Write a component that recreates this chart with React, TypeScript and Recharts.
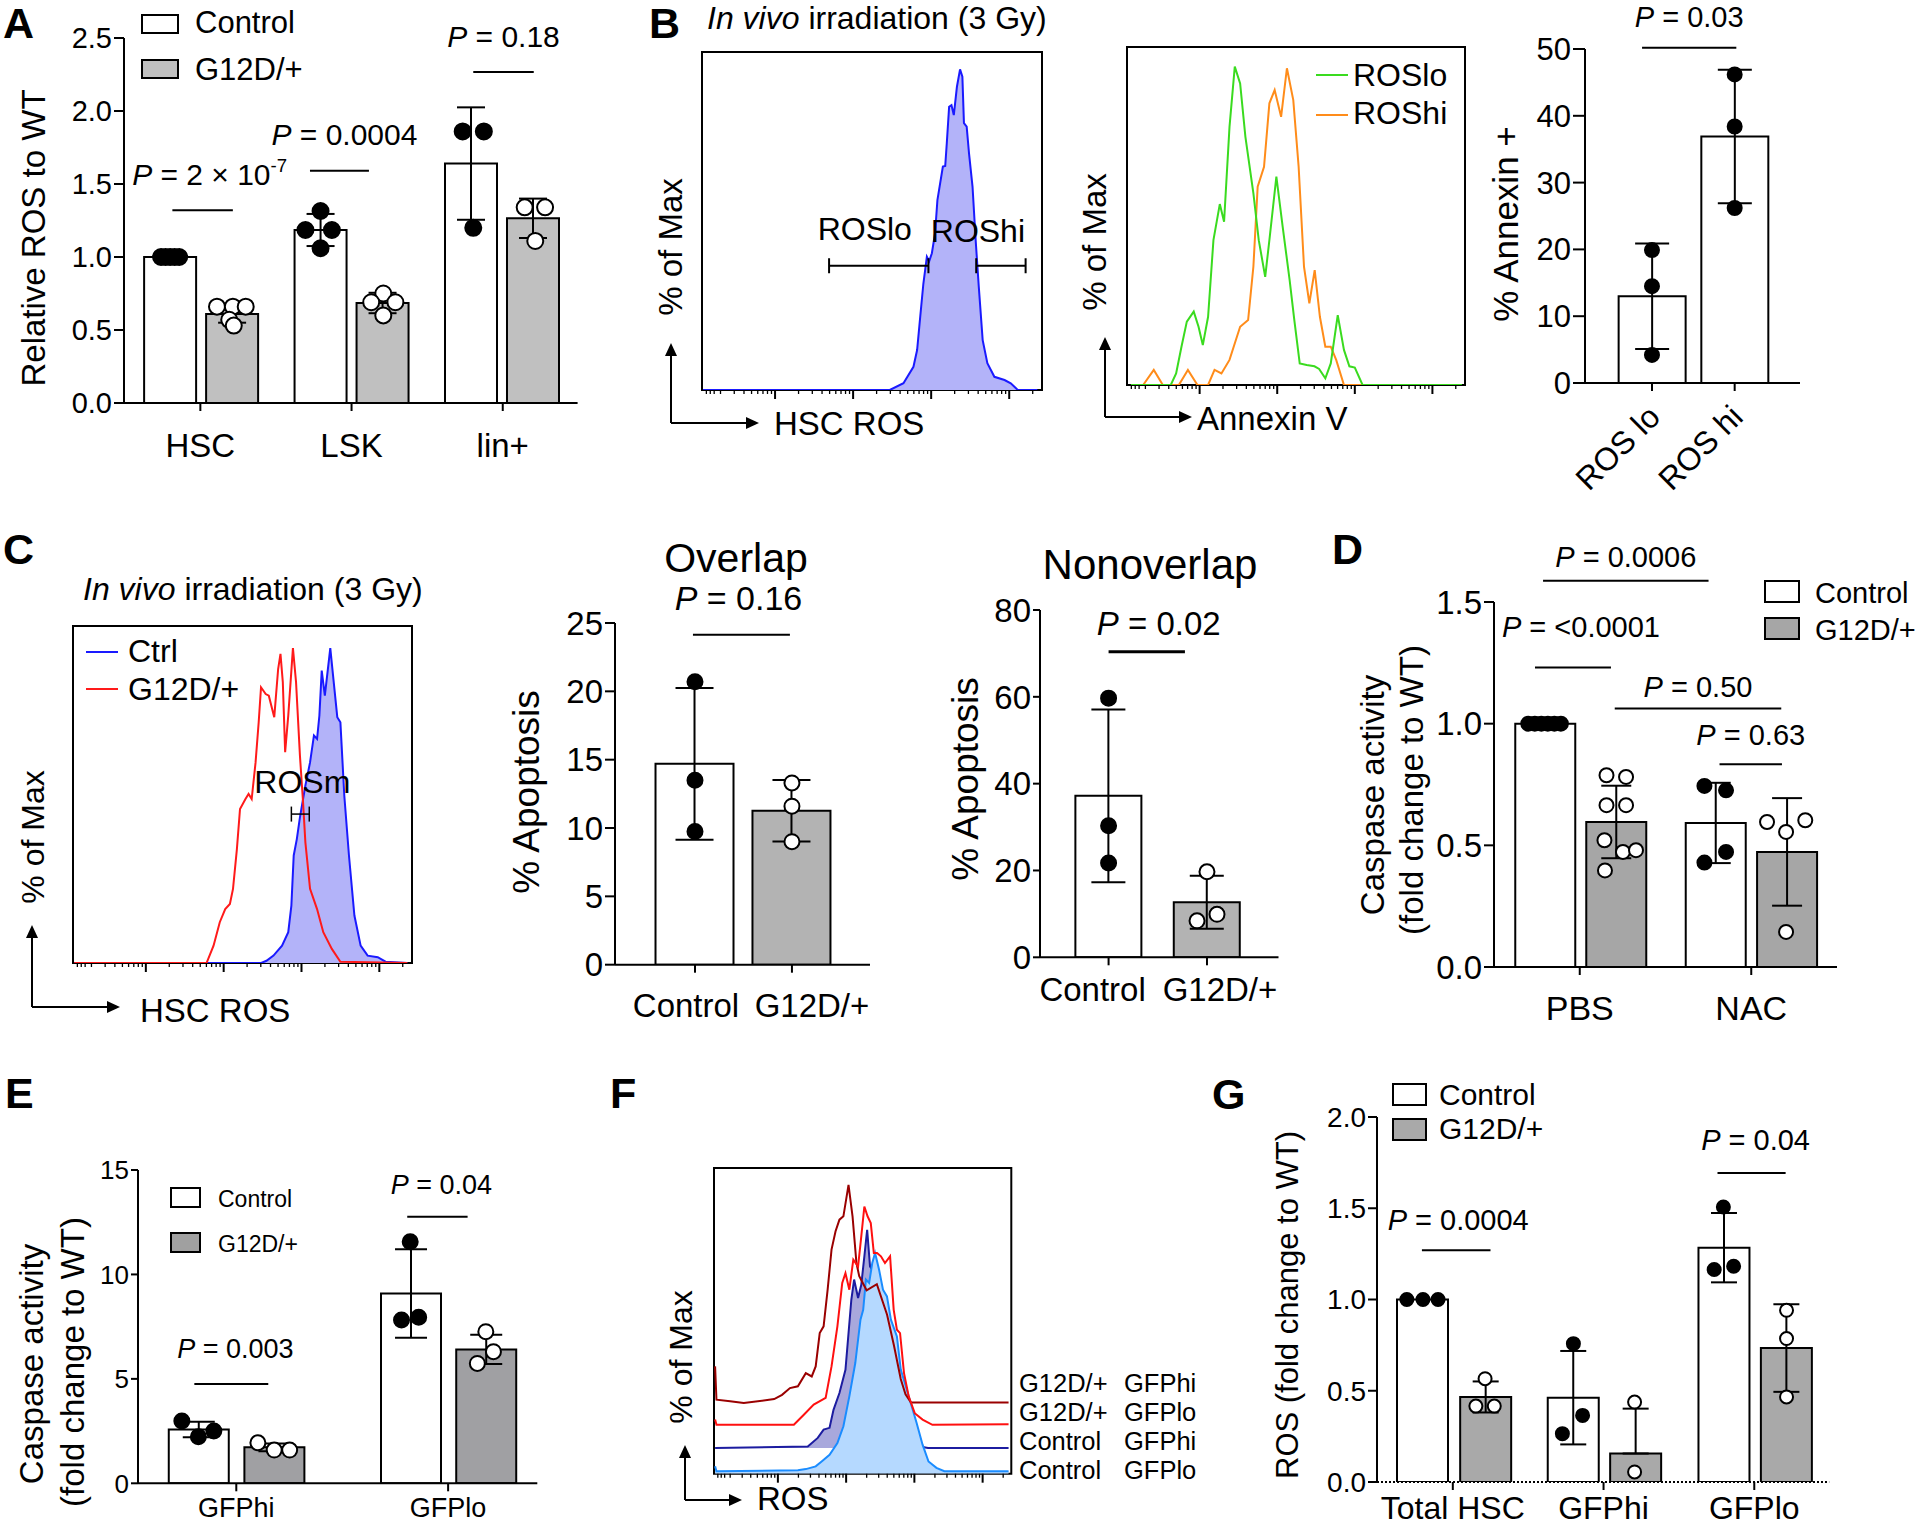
import React from "react";
import {
  ComposedChart,
  Bar,
  Cell,
  ErrorBar,
  Scatter,
  XAxis,
  YAxis,
  ReferenceLine,
  ReferenceArea,
  Area,
  Line,
} from "recharts";

const FONT = "'Liberation Sans', Arial, Helvetica, sans-serif";
const axisStyle = { stroke: "#000", strokeWidth: 2 };

type Pt = [number, number];

// ---------- A: relative ROS ----------
const aGroups = ["HSC", "LSK", "lin+"];
const aCtrl = [1.0, 1.185, 1.64];
const aCtrlSd = [0, 0.11, 0.385];
const aMut = [0.61, 0.685, 1.265];
const aMutSd = [0.06, 0.07, 0.135];
const aCtrlDots: Pt[] = [
  [0.245, 1], [0.275, 1], [0.305, 1], [0.335, 1], [0.365, 1],
  [1.3, 1.315], [1.2, 1.185], [1.375, 1.185], [1.3, 1.06],
  [2.24, 1.86], [2.38, 1.86], [2.31, 1.2],
];
const aMutDots: Pt[] = [
  [0.615, 0.66], [0.72, 0.66], [0.805, 0.66], [0.696, 0.57], [0.726, 0.53],
  [1.715, 0.75], [1.635, 0.69], [1.795, 0.69], [1.715, 0.6],
  [2.65, 1.34], [2.785, 1.34], [2.72, 1.11],
];
const aPvals = ["2 × 10", "0.0004", "0.18"];

// ---------- B: annexin by ROS gate ----------
const bGroups = ["ROS lo", "ROS hi"];
const bAnnexin = [13.0, 36.9];
const bAnnexinSd = [7.9, 10.0];
const bDots: Pt[] = [
  [0.81, 19.9], [0.81, 14.5], [0.81, 4.2],
  [1.81, 46.2], [1.81, 38.4], [1.81, 26.2],
];
const bPvals = ["0.03"];

// flow histograms: [position on log axis (decades), % of max]
const b1Hsc: Pt[] = [
  [0.077, 0], [2.47, 0], [2.645, 2.1], [2.773, 7.2], [2.82, 12.4], [2.86, 22.8], [2.9, 33],
  [2.945, 41.4], [2.975, 40], [3.009, 42.5], [3.05, 48.7], [3.08, 59], [3.15, 69.4], [3.18, 69.6],
  [3.2, 76.6], [3.23, 88], [3.26, 88.5], [3.29, 85.4], [3.33, 94.2], [3.37, 99.6], [3.4, 97.3],
  [3.42, 82.9], [3.455, 81.8], [3.485, 73.5], [3.53, 63.2], [3.57, 46.6], [3.61, 32.1],
  [3.66, 15.5], [3.72, 8.3], [3.81, 4.1], [3.94, 3.1], [4.02, 2.1], [4.11, 0], [4.36, 0],
];
const b2Lo: Pt[] = [
  [0.114, 0], [0.628, 0], [0.697, 3.6], [0.766, 11.9], [0.835, 19.7], [0.924, 22.8], [0.986, 18.1],
  [1.041, 12.4], [1.109, 21.2], [1.178, 45], [1.26, 56.2], [1.315, 50.7], [1.385, 80.2],
  [1.453, 98.9], [1.522, 93.7], [1.59, 77.1], [1.693, 59.5], [1.762, 45], [1.845, 33.6],
  [1.899, 45], [1.989, 64.7], [2.07, 49.2], [2.16, 32.6], [2.22, 20.2], [2.29, 6.7], [2.38, 6.2],
  [2.48, 5.8], [2.54, 5], [2.62, 2.1], [2.69, 6.7], [2.78, 21.7], [2.86, 10.9], [2.93, 5.8],
  [3.0, 5.4], [3.1, 0], [4.38, 0],
];
const b2Hi: Pt[] = [
  [0.272, 0], [0.409, 4.7], [0.526, 0], [0.732, 0], [0.849, 4.7], [0.972, 0], [1.109, 0],
  [1.192, 4.7], [1.281, 3.6], [1.385, 7.8], [1.522, 18.1], [1.625, 20.2], [1.693, 36.8],
  [1.748, 61.6], [1.83, 67.8], [1.899, 87.5], [1.967, 91.6], [2.05, 83.3], [2.125, 98.4],
  [2.207, 88.5], [2.276, 67.8], [2.345, 36.8], [2.414, 25.4], [2.483, 35.7], [2.55, 21.2],
  [2.62, 11.9], [2.69, 11.9], [2.76, 7.8], [2.86, 0], [3.1, 0],
];

// ---------- C ----------
const cCtrl: Pt[] = [
  [0.08, 0], [2.483, 0], [2.55, 0.7], [2.64, 2.3], [2.75, 5.4], [2.83, 9.6], [2.87, 17.9],
  [2.9, 33.5], [2.94, 38.6], [2.98, 45.4], [3.05, 55.3], [3.11, 62.5], [3.16, 70.9], [3.2, 69.8],
  [3.23, 77.1], [3.26, 91.1], [3.3, 83.3], [3.37, 98.1], [3.41, 88.5], [3.46, 76.6], [3.5, 75],
  [3.55, 52.2], [3.61, 33.5], [3.68, 14.8], [3.76, 5.4], [3.85, 2.3], [3.98, 1.8], [4.08, 0.4],
  [4.36, 0],
];
const cMut: Pt[] = [
  [0.08, 0], [1.78, 0], [1.87, 5.4], [1.95, 12.7], [2.02, 16.8], [2.08, 18.4], [2.12, 23.1],
  [2.17, 35.5], [2.21, 48], [2.28, 51.1], [2.32, 52.7], [2.36, 51.1], [2.41, 62.5], [2.45, 75],
  [2.48, 85.9], [2.54, 83.8], [2.58, 83.3], [2.65, 76.6], [2.7, 91.6], [2.73, 96.3], [2.76, 87.5],
  [2.79, 65.7], [2.83, 77.1], [2.89, 98.1], [2.93, 87.5], [2.98, 64.6], [3.02, 50.1],
  [3.05, 37.6], [3.11, 23.1], [3.2, 16.8], [3.28, 9.6], [3.39, 4.4], [3.5, 0.4], [4.36, 0],
];
const cGroups = ["Control", "G12D/+"];
const cOverlap = [14.7, 11.27];
const cOverlapSd = [5.55, 2.25];
const cOverlapCtrlDots: Pt[] = [[0.825, 20.7], [0.825, 13.5], [0.825, 9.75]];
const cOverlapMutDots: Pt[] = [[1.825, 13.3], [1.825, 11.6], [1.825, 9.0]];
const cNon = [37.2, 12.7];
const cNonSd = [19.9, 6.1];
const cNonCtrlDots: Pt[] = [[0.697, 59.7], [0.697, 30.3], [0.697, 21.7]];
const cNonMutDots: Pt[] = [[1.697, 19.7], [1.799, 9.9], [1.596, 8.4]];

// ---------- D ----------
const dGroups = ["PBS", "NAC"];
const dCtrl = [1.0, 0.592];
const dCtrlSd = [0, 0.165];
const dMut = [0.596, 0.473];
const dMutSd = [0.149, 0.221];
const dCtrlDots: Pt[] = [
  [0.2, 1], [0.238, 1], [0.276, 1], [0.314, 1], [0.352, 1], [0.39, 1],
  [1.227, 0.744], [1.353, 0.726], [1.227, 0.429], [1.353, 0.473],
];
const dMutDots: Pt[] = [
  [0.656, 0.788], [0.77, 0.781], [0.656, 0.665], [0.77, 0.665], [0.644, 0.521],
  [0.752, 0.473], [0.828, 0.48], [0.647, 0.397],
  [1.592, 0.596], [1.703, 0.555], [1.815, 0.603], [1.703, 0.144],
];
const dPvals = ["0.0006", "<0.0001", "0.50", "0.63"];

// ---------- E ----------
const eGroups = ["GFPhi", "GFPlo"];
const eCtrl = [2.58, 9.09];
const eCtrlSd = [0.37, 2.12];
const eMut = [1.72, 6.41];
const eMutSd = [0.18, 0.7];
const eCtrlDots: Pt[] = [[0.207, 2.98], [0.285, 2.23], [0.358, 2.5], [1.285, 11.57], [1.244, 7.82], [1.325, 7.95]];
const eMutDots: Pt[] = [[0.566, 1.94], [0.643, 1.59], [0.716, 1.59], [1.642, 7.26], [1.678, 6.3], [1.602, 5.74]];
const ePvals = ["0.003", "0.04"];

// ---------- F ----------
const fMutHi: Pt[] = [
  [0.08, 35.1], [0.1, 24.2], [0.3, 23.7], [0.5, 23.1], [0.946, 24.4], [1.061, 25.8], [1.177, 28],
  [1.293, 28.6], [1.409, 32.9], [1.496, 31.8], [1.554, 35.1], [1.613, 46], [1.67, 48.2],
  [1.729, 60.2], [1.786, 73.3], [1.845, 79.3], [1.902, 83.1], [1.96, 84.2], [2.035, 94.5],
  [2.094, 84.2], [2.151, 68.9], [2.192, 64.6], [2.3, 60], [2.45, 62], [2.6, 52], [2.7, 42],
  [2.8, 31], [2.87, 26], [2.95, 23.3], [4.38, 23.3],
];
const fMutLo: Pt[] = [
  [0.08, 17.7], [0.1, 16], [1.234, 16], [1.38, 19.3], [1.525, 22.6], [1.7, 24.8], [1.786, 35.1],
  [1.872, 48.2], [1.943, 62.4], [1.99, 65.6], [2.047, 60.2], [2.105, 70], [2.175, 67.8],
  [2.222, 77.6], [2.267, 87.4], [2.314, 84.2], [2.361, 82], [2.406, 72.2], [2.453, 72.2],
  [2.51, 71.1], [2.569, 68.9], [2.644, 71.1], [2.697, 53.6], [2.744, 47.1], [2.79, 46],
  [2.848, 32.9], [2.917, 25.3], [3.005, 19.8], [3.12, 17.7], [3.264, 16], [4.38, 16.2],
];
const fCtrlHi: Pt[] = [
  [0.08, 8.4], [1.438, 8.9], [1.584, 11.7], [1.67, 14.4], [1.757, 15], [1.815, 20.9],
  [1.902, 26.4], [1.99, 34], [2.076, 56.9], [2.117, 63.5], [2.175, 57.5], [2.222, 61.8],
  [2.267, 71.1], [2.308, 79.8], [2.35, 67.8], [2.47, 63.5], [2.58, 55.8], [2.69, 42.7],
  [2.8, 29.7], [2.917, 18.8], [3.033, 11.1], [3.12, 8.7], [3.2, 8.4], [4.38, 8.4],
];
const fCtrlLo: Pt[] = [
  [0.08, 2.4], [0.1, 0.8], [1.293, 1.1], [1.409, 1.5], [1.554, 2.4], [1.641, 4.0], [1.757, 6.2],
  [1.872, 10.0], [1.96, 15.5], [2.047, 25.3], [2.134, 36.2], [2.21, 50.4], [2.25, 53.6],
  [2.29, 63.5], [2.337, 62.4], [2.383, 68.9], [2.424, 72.2], [2.483, 66.7], [2.54, 60.2],
  [2.598, 58], [2.656, 50.4], [2.744, 44.9], [2.801, 34], [2.86, 29.7], [2.917, 25.3],
  [2.976, 20.9], [3.033, 16.6], [3.12, 9.5], [3.207, 4.0], [3.323, 1.9], [3.439, 0.8], [4.38, 0.8],
];
const fLabels = [["G12D/+", "GFPhi"], ["G12D/+", "GFPlo"], ["Control", "GFPhi"], ["Control", "GFPlo"]];

// ---------- G ----------
const gGroups = ["Total HSC", "GFPhi", "GFPlo"];
const gCtrl = [1.0, 0.462, 1.284];
const gCtrlSd = [0, 0.256, 0.19];
const gMut = [0.466, 0.156, 0.734];
const gMutSd: (number | Pt)[] = [0.085, [0, 0.246], 0.24];
const gCtrlDots: Pt[] = [
  [0.198, 1], [0.305, 1], [0.405, 1],
  [1.303, 0.758], [1.364, 0.365], [1.23, 0.265],
  [2.298, 1.507], [2.237, 1.164], [2.366, 1.182],
];
const gMutDots: Pt[] = [
  [0.717, 0.566], [0.656, 0.416], [0.778, 0.416],
  [1.709, 0.438], [1.709, 0.055],
  [2.717, 0.941], [2.717, 0.786], [2.717, 0.466],
];
const gPvals = ["0.0004", "0.04"];

// ---------- layout (axis units) ----------
const A_SLOTS = [0.305, 0.715, 1.3, 1.71, 2.295, 2.705];
const D_SLOTS = [0.296, 0.71, 1.29, 1.706];
const E_SLOTS = [0.285, 0.642, 1.287, 1.642];
const G_SLOTS = [0.3, 0.719, 1.3, 1.714, 2.3, 2.714];

const A_BRACKETS = [
  { x1: 0.32, x2: 0.72, y: 1.32, dy: 25, dx: 7, sup: "-7" },
  { x1: 1.23, x2: 1.62, y: 1.59, dy: 26, dx: 5 },
  { x1: 2.31, x2: 2.71, y: 2.267, dy: 25 },
];
const B_BRACKETS = [{ x1: 0.69, x2: 1.83, y: 50.2, dy: 21 }];
const COV_BRACKETS = [{ x1: 0.804, x2: 1.804, y: 24.14, dy: 25, dx: -3 }];
const CNON_BRACKETS = [{ x1: 0.697, x2: 1.473, y: 70.4, dy: 17, dx: 12, sw: 3 }];
const D_BRACKETS = [
  { x1: 0.286, x2: 1.251, y: 1.587, dy: 14 },
  { x1: 0.239, x2: 0.682, y: 1.231, dy: 30, dx: 8 },
  { x1: 0.704, x2: 1.675, y: 1.062, dy: 12 },
  { x1: 1.315, x2: 1.679, y: 0.833, dy: 19 },
];
const E_BRACKETS = [
  { x1: 0.266, x2: 0.615, y: 4.75, dy: 26, dx: 4 },
  { x1: 1.271, x2: 1.556, y: 12.76, dy: 23, dx: 4 },
];
const G_BRACKETS = [
  { x1: 0.298, x2: 0.753, y: 1.27, dy: 20, dx: 2 },
  { x1: 2.259, x2: 2.711, y: 1.693, dy: 23, dx: 4 },
];

function pairRows(slots: number[], ctrl: number[], ctrlSd: any[], mut: number[], mutSd: any[], mutFill: string) {
  const rows: any[] = [];
  ctrl.forEach((v, i) => {
    rows.push({ x: slots[2 * i], y: v, err: ctrlSd[i], fill: "#fff" });
    rows.push({ x: slots[2 * i + 1], y: mut[i], err: mutSd[i], fill: mutFill });
  });
  return rows;
}

function mergeCurves(curves: Record<string, Pt[]>) {
  const map = new Map<number, any>();
  Object.entries(curves).forEach(([key, pts]) => {
    pts.forEach(([x, y]) => {
      const row = map.get(x) ?? { x };
      row[key] = y;
      map.set(x, row);
    });
  });
  return [...map.values()].sort((a, b) => a.x - b.x);
}

const FLOW_DOMAIN: [number, number] = [0.064, 4.42];
const FLOW_TICKS = (() => {
  const t = [0.12, 0.17, 0.22];
  for (let d = 0; d <= 4; d++) {
    if (d > 0) t.push(d);
    for (let k = 2; k <= 9; k++) {
      const v = d + Math.log10(k);
      if (v < FLOW_DOMAIN[1]) t.push(v);
    }
  }
  return t.sort((a, b) => a - b);
})();

const dotShape = (r: number, fill: string) => (props: any) => {
  if (props.cx == null || props.cy == null) return <g />;
  return <circle cx={props.cx} cy={props.cy} r={r} fill={fill} stroke="#000" strokeWidth={2} />;
};

const pLabel = (l: any, fs: number) => (props: any) => {
  const vb = props.viewBox ?? {};
  const cx = (vb.x ?? 0) + (vb.width ?? 0) / 2 + (l.dx ?? 0);
  const y = (vb.y ?? 0) - l.dy;
  return (
    <text x={cx} y={y} textAnchor="middle" fontSize={fs} fontFamily={FONT} fill="#000">
      <tspan fontStyle="italic">P</tspan>
      <tspan>{" = " + l.txt}</tspan>
      {l.sup ? (
        <tspan dy={-fs * 0.45} fontSize={fs * 0.62}>
          {l.sup}
        </tspan>
      ) : null}
    </text>
  );
};

const gateLabel = (g: any, fs: number) => (props: any) => {
  const vb = props.viewBox ?? {};
  const cx = (vb.x ?? 0) + (vb.width ?? 0) / 2 + (g.dx ?? 0);
  return (
    <text x={cx} y={(vb.y ?? 0) - g.dy} textAnchor="middle" fontSize={fs} fontFamily={FONT} fill="#000">
      {g.label}
    </text>
  );
};

const groupTick = (p: any) => (t: any) => {
  const i = t.index;
  const label = p.groups[i];
  const axisY = t.y - 8;
  if (p.rotate) {
    return (
      <text
        transform={`translate(${t.x + 10},${axisY + 36}) rotate(-45)`}
        textAnchor="end"
        fontSize={p.xFont}
        fontFamily={FONT}
        fill="#000"
      >
        {label}
      </text>
    );
  }
  return (
    <text x={t.x + (p.labelDx?.[i] ?? 0)} y={axisY + p.labelBase} textAnchor="middle" fontSize={p.xFont} fontFamily={FONT} fill="#000">
      {label}
    </text>
  );
};

const flowTick = (t: any) => {
  const v = t.payload?.value ?? 0;
  const major = Math.abs(v - Math.round(v)) < 1e-6;
  return <line x1={t.x} x2={t.x} y1={t.y} y2={t.y + (major ? 9 : 4)} stroke="#000" strokeWidth={major ? 2 : 1.3} />;
};

function BarPanel(p: any) {
  const [px, py, pw, ph] = p.plot;
  const padL = 110;
  const padT = 80;
  const padR = 30;
  const padB = p.rotate ? 150 : 80;
  const W = pw + padL + padR;
  const H = ph + padT + padB;
  const lines = p.brackets.map((b: any, i: number) => ({ ...b, txt: p.pvals[i] }));
  return (
    <div style={{ position: "absolute", left: px - padL, top: py - padT, width: W, height: H }}>
      <ComposedChart width={W} height={H} data={p.rows} margin={{ top: padT, right: padR, left: 0, bottom: 0 }}>
        <YAxis
          type="number"
          dataKey="y"
          width={padL}
          domain={p.yDomain}
          allowDataOverflow
          ticks={p.yTicks}
          interval={0}
          tickFormatter={p.yFmt}
          axisLine={axisStyle}
          tickLine={axisStyle}
          tickSize={p.tickSize ?? 9}
          tickMargin={2}
          tick={{ fill: "#000", fontSize: p.yFont, fontFamily: FONT }}
        />
        <XAxis
          xAxisId="b"
          type="number"
          dataKey="x"
          domain={p.xDomain}
          allowDataOverflow
          ticks={p.groupTicks}
          interval={0}
          height={padB}
          tickSize={8}
          tickMargin={0}
          tickLine={axisStyle}
          axisLine={p.dotted ? { ...axisStyle, strokeDasharray: "2 2" } : axisStyle}
          tick={groupTick(p)}
        />
        <XAxis xAxisId="s" type="number" dataKey="x" domain={p.xDomain} allowDataOverflow hide />
        <Bar xAxisId="b" dataKey="y" barSize={p.barSize} stroke="#000" strokeWidth={2} isAnimationActive={false}>
          {p.rows.map((r: any, i: number) => (
            <Cell key={i} fill={r.fill} />
          ))}
          <ErrorBar dataKey="err" width={p.cap} stroke="#000" strokeWidth={2} direction="y" />
        </Bar>
        {lines.map((l: any, i: number) => (
          <ReferenceLine
            key={"p" + i}
            xAxisId="s"
            ifOverflow="visible"
            segment={[{ x: l.x1, y: l.y }, { x: l.x2, y: l.y }]}
            stroke="#000"
            strokeWidth={l.sw ?? 2}
            label={pLabel(l, p.pFont)}
          />
        ))}
        {p.filled.length > 0 && (
          <Scatter
            xAxisId="s"
            data={p.filled.map(([x, y]: Pt) => ({ x, y }))}
            shape={dotShape(p.r, "#000")}
            isAnimationActive={false}
          />
        )}
        {p.open.length > 0 && (
          <Scatter
            xAxisId="s"
            data={p.open.map(([x, y]: Pt) => ({ x, y }))}
            shape={dotShape(p.r, "#fff")}
            isAnimationActive={false}
          />
        )}
      </ComposedChart>
    </div>
  );
}

function gateLines(gates: any[], capH: number, fs: number, sw: number) {
  const out: any[] = [];
  gates.forEach((g, i) => {
    out.push(
      <ReferenceLine
        key={"g" + i}
        ifOverflow="visible"
        segment={[{ x: g.x1, y: g.y }, { x: g.x2, y: g.y }]}
        stroke="#000"
        strokeWidth={sw}
        label={gateLabel(g, fs)}
      />
    );
    [g.x1, g.x2].forEach((x, j) =>
      out.push(
        <ReferenceLine
          key={"c" + i + "-" + j}
          ifOverflow="visible"
          segment={[{ x, y: g.y - capH }, { x, y: g.y + capH }]}
          stroke="#000"
          strokeWidth={sw}
        />
      )
    );
  });
  return out;
}

function FlowPanel(p: any) {
  const [px, py, pw, ph] = p.plot;
  const pad = 12;
  const padB = 24;
  const W = pw + pad * 2;
  const H = ph + pad + padB;
  return (
    <div style={{ position: "absolute", left: px - pad, top: py - pad, width: W, height: H }}>
      <ComposedChart width={W} height={H} data={p.data} margin={{ top: pad, right: pad, left: pad, bottom: 0 }}>
        <XAxis
          type="number"
          dataKey="x"
          domain={FLOW_DOMAIN}
          allowDataOverflow
          ticks={FLOW_TICKS}
          interval={0}
          height={padB}
          tickSize={0}
          tickMargin={0}
          tickLine={false}
          axisLine={false}
          tick={flowTick}
        />
        <YAxis type="number" hide domain={[0, p.yMax]} allowDataOverflow />
        <ReferenceArea
          x1={FLOW_DOMAIN[0]}
          x2={FLOW_DOMAIN[1]}
          y1={0}
          y2={p.yMax}
          fill="none"
          stroke="#000"
          strokeWidth={2}
          ifOverflow="visible"
        />
        {p.children}
      </ComposedChart>
    </div>
  );
}

const b1Data = mergeCurves({ hsc: b1Hsc });
const b2Data = mergeCurves({ lo: b2Lo, hi: b2Hi });
const cData = mergeCurves({ ctrl: cCtrl, mut: cMut });
const fData = mergeCurves({ mutHi: fMutHi, mutLo: fMutLo, ctrlHi: fCtrlHi, ctrlLo: fCtrlLo });

const B1_GATES = [
  { x1: 1.692, x2: 2.965, y: 38.6, label: "ROSlo", dx: -14, dy: 26 },
  { x1: 3.577, x2: 4.21, y: 38.6, label: "ROShi", dx: -23, dy: 24 },
];
const C_GATES = [{ x1: 2.87, x2: 3.1, y: 46.4, label: "ROSm", dx: 2, dy: 21 }];

function T(p: any) {
  if (p.rot) {
    return (
      <text
        transform={`translate(${p.x},${p.y}) rotate(-90)`}
        textAnchor="middle"
        dominantBaseline="central"
        fontSize={p.fs}
        fontFamily={FONT}
        fill="#000"
      >
        {p.children}
      </text>
    );
  }
  return (
    <text x={p.x} y={p.y} textAnchor={p.anchor ?? "start"} fontSize={p.fs} fontFamily={FONT} fontWeight={p.bold ? "bold" : undefined} fill="#000">
      {p.children}
    </text>
  );
}

function Arrows({ x, y, up, right }: any) {
  return (
    <g>
      <line x1={x} y1={y} x2={x} y2={up + 10} stroke="#000" strokeWidth={2} />
      <line x1={x} y1={y} x2={right - 10} y2={y} stroke="#000" strokeWidth={2} />
      <polygon points={`${x - 6},${up + 13} ${x + 6},${up + 13} ${x},${up}`} fill="#000" />
      <polygon points={`${right - 13},${y - 6} ${right - 13},${y + 6} ${right},${y}`} fill="#000" />
    </g>
  );
}

function BoxLegend({ x, y1, y2, w, h, fill, fs, tx, b1, b2 }: any) {
  return (
    <g>
      <rect x={x} y={y1} width={w} height={h} fill="#fff" stroke="#000" strokeWidth={2} />
      <rect x={x} y={y2} width={w} height={h} fill={fill} stroke="#000" strokeWidth={2} />
      <T x={tx} y={b1} fs={fs}>Control</T>
      <T x={tx} y={b2} fs={fs}>G12D/+</T>
    </g>
  );
}

function Overlay() {
  const fBase = [1392, 1421, 1450, 1479];
  return (
    <svg width={1920} height={1527} style={{ position: "absolute", left: 0, top: 0, pointerEvents: "none" }}>
      {/* panel letters */}
      <T x={3} y={38} fs={43} bold>A</T>
      <T x={649} y={38} fs={43} bold>B</T>
      <T x={3} y={564} fs={43} bold>C</T>
      <T x={1332} y={564} fs={43} bold>D</T>
      <T x={5} y={1108} fs={43} bold>E</T>
      <T x={610} y={1108} fs={43} bold>F</T>
      <T x={1212} y={1109} fs={43} bold>G</T>

      {/* A */}
      <BoxLegend x={142} y1={15} y2={60} w={36} h={18} fill="#c0c0c0" fs={31} tx={195} b1={33} b2={80} />
      <T x={33} y={238} fs={33} rot>Relative ROS to WT</T>

      {/* B */}
      <text x={707} y={29} fontSize={32} fontFamily={FONT} fill="#000">
        <tspan fontStyle="italic">In vivo</tspan>
        <tspan> irradiation (3 Gy)</tspan>
      </text>
      <T x={670} y={247} fs={33} rot>% of Max</T>
      <Arrows x={671} y={423} up={343} right={759} />
      <T x={774} y={435} fs={33}>HSC ROS</T>
      <T x={1094} y={242} fs={33} rot>% of Max</T>
      <Arrows x={1105} y={417} up={337} right={1192} />
      <T x={1197} y={430} fs={33}>Annexin V</T>
      <line x1={1316} y1={75} x2={1348} y2={75} stroke="#3adb1f" strokeWidth={2} />
      <T x={1353} y={86} fs={32}>ROSlo</T>
      <line x1={1316} y1={115} x2={1348} y2={115} stroke="#ff8c1a" strokeWidth={2} />
      <T x={1353} y={124} fs={32}>ROShi</T>
      <T x={1505} y={224} fs={35} rot>% Annexin +</T>

      {/* C */}
      <text x={83} y={600} fontSize={32} fontFamily={FONT} fill="#000">
        <tspan fontStyle="italic">In vivo</tspan>
        <tspan> irradiation (3 Gy)</tspan>
      </text>
      <line x1={86} y1={652} x2={118} y2={652} stroke="#1a1aff" strokeWidth={2} />
      <T x={128} y={662} fs={32}>Ctrl</T>
      <line x1={86} y1={689} x2={118} y2={689} stroke="#ff1a1a" strokeWidth={2} />
      <T x={128} y={700} fs={32}>G12D/+</T>
      <T x={33} y={837} fs={32} rot>% of Max</T>
      <Arrows x={32} y={1007} up={925} right={120} />
      <T x={140} y={1022} fs={33}>HSC ROS</T>
      <T x={736} y={572} fs={41} anchor="middle">Overlap</T>
      <T x={1150} y={579} fs={42} anchor="middle">Nonoverlap</T>
      <T x={526} y={792} fs={37} rot>% Apoptosis</T>
      <T x={965} y={779} fs={37} rot>% Apoptosis</T>

      {/* D */}
      <BoxLegend x={1765} y1={581} y2={618} w={34} h={21} fill="#a6a6a6" fs={29} tx={1815} b1={603} b2={640} />
      <T x={1372} y={795} fs={33} rot>Caspase activity</T>
      <T x={1411} y={790} fs={33} rot>(fold change to WT)</T>

      {/* E */}
      <BoxLegend x={171} y1={1188} y2={1233} w={29} h={19} fill="#a0a0a0" fs={23} tx={218} b1={1207} b2={1252} />
      <T x={31} y={1364} fs={33} rot>Caspase activity</T>
      <T x={72} y={1362} fs={33} rot>(fold change to WT)</T>

      {/* F */}
      <T x={681} y={1357} fs={32} rot>% of Max</T>
      <Arrows x={685} y={1500} up={1445} right={742} />
      <T x={757} y={1510} fs={33}>ROS</T>
      {fLabels.map((row, i) => (
        <text key={"fl" + i} x={1019} y={fBase[i]} fontSize={25.5} fontFamily={FONT} fill="#000">
          <tspan>{row[0]}</tspan>
          <tspan x={1124}>{row[1]}</tspan>
        </text>
      ))}

      {/* G */}
      <BoxLegend x={1393} y1={1084} y2={1119} w={33} h={21} fill="#a9a9a9" fs={30} tx={1439} b1={1105} b2={1139} />
      <T x={1287} y={1305} fs={31} rot>ROS (fold change to WT)</T>
    </svg>
  );
}

const fmt1 = (v: number) => v.toFixed(1);
const fmt0 = (v: number) => String(v);

export default function App() {
  return (
    <div style={{ position: "absolute", left: 0, top: 0, width: 1920, height: 1527, background: "#fff", overflow: "hidden" }}>
      {/* A */}
      <BarPanel
        plot={[124.4, 38, 453.6, 365]}
        xDomain={[0, 3]}
        yDomain={[0, 2.5]}
        yTicks={[0, 0.5, 1, 1.5, 2, 2.5]}
        yFmt={fmt1}
        yFont={29}
        tickSize={10}
        groups={aGroups}
        groupTicks={[0.505, 1.505, 2.505]}
        labelBase={54}
        xFont={33}
        rows={pairRows(A_SLOTS, aCtrl, aCtrlSd, aMut, aMutSd, "#c0c0c0")}
        barSize={52}
        cap={14}
        filled={aCtrlDots}
        open={aMutDots}
        r={8}
        brackets={A_BRACKETS}
        pvals={aPvals}
        pFont={30}
      />

      {/* B flow 1 */}
      <FlowPanel plot={[702, 52, 340, 338]} yMax={105} data={b1Data}>
        {[
          <Area
            key="hsc"
            dataKey="hsc"
            type="linear"
            stroke="#1a1aff"
            strokeWidth={2}
            fill="#b3b3f9"
            fillOpacity={1}
            connectNulls
            dot={false}
            activeDot={false}
            isAnimationActive={false}
          />,
          ...gateLines(B1_GATES, 2.33, 32, 2),
        ]}
      </FlowPanel>

      {/* B flow 2 */}
      <FlowPanel plot={[1127, 47, 338, 338]} yMax={105} data={b2Data}>
        {[
          <Line key="hi" dataKey="hi" type="linear" stroke="#ff8c1a" strokeWidth={2} connectNulls dot={false} activeDot={false} isAnimationActive={false} />,
          <Line key="lo" dataKey="lo" type="linear" stroke="#3adb1f" strokeWidth={2} connectNulls dot={false} activeDot={false} isAnimationActive={false} />,
        ]}
      </FlowPanel>

      {/* B bars */}
      <BarPanel
        plot={[1585, 49.3, 215, 334]}
        xDomain={[0, 2.6]}
        yDomain={[0, 50]}
        yTicks={[0, 10, 20, 30, 40, 50]}
        yFmt={fmt0}
        yFont={31}
        tickSize={12}
        groups={bGroups}
        groupTicks={[0.81, 1.81]}
        rotate
        xFont={32}
        rows={bAnnexin.map((v, i) => ({ x: [0.81, 1.81][i], y: v, err: bAnnexinSd[i], fill: "#fff" }))}
        barSize={67}
        cap={17}
        filled={bDots}
        open={[]}
        r={7}
        brackets={B_BRACKETS}
        pvals={bPvals}
        pFont={29}
      />

      {/* C flow */}
      <FlowPanel plot={[73, 626, 339, 337]} yMax={105} data={cData}>
        {[
          <Area
            key="ctrl"
            dataKey="ctrl"
            type="linear"
            stroke="#1a1aff"
            strokeWidth={2}
            fill="#b3b3f9"
            fillOpacity={1}
            connectNulls
            dot={false}
            activeDot={false}
            isAnimationActive={false}
          />,
          <Line key="mut" dataKey="mut" type="linear" stroke="#ff1a1a" strokeWidth={2} connectNulls dot={false} activeDot={false} isAnimationActive={false} />,
          ...gateLines(C_GATES, 2.34, 32, 1.5),
        ]}
      </FlowPanel>

      {/* C overlap */}
      <BarPanel
        plot={[615, 623.3, 255, 341.7]}
        xDomain={[0, 2.63]}
        yDomain={[0, 25]}
        yTicks={[0, 5, 10, 15, 20, 25]}
        yFmt={fmt0}
        yFont={33}
        tickSize={10}
        groups={cGroups}
        groupTicks={[0.825, 1.825]}
        labelDx={[-9, 20]}
        labelBase={52}
        xFont={33}
        rows={cOverlap.map((v, i) => ({ x: [0.825, 1.825][i], y: v, err: cOverlapSd[i], fill: ["#fff", "#b3b3b3"][i] }))}
        barSize={78}
        cap={19}
        filled={cOverlapCtrlDots}
        open={cOverlapMutDots}
        r={7.5}
        brackets={COV_BRACKETS}
        pvals={["0.16"]}
        pFont={34}
      />

      {/* C nonoverlap */}
      <BarPanel
        plot={[1040, 610, 238.5, 347.3]}
        xDomain={[0, 2.424]}
        yDomain={[0, 80]}
        yTicks={[0, 20, 40, 60, 80]}
        yFmt={fmt0}
        yFont={33}
        tickSize={7}
        groups={cGroups}
        groupTicks={[0.697, 1.697]}
        labelDx={[-16, 13]}
        labelBase={44}
        xFont={33}
        rows={cNon.map((v, i) => ({ x: [0.697, 1.697][i], y: v, err: cNonSd[i], fill: ["#fff", "#b3b3b3"][i] }))}
        barSize={66}
        cap={17}
        filled={cNonCtrlDots}
        open={cNonMutDots}
        r={7.5}
        brackets={CNON_BRACKETS}
        pvals={["0.02"]}
        pFont={33}
      />

      {/* D */}
      <BarPanel
        plot={[1494, 601.7, 343, 365]}
        xDomain={[0, 2]}
        yDomain={[0, 1.5]}
        yTicks={[0, 0.5, 1, 1.5]}
        yFmt={fmt1}
        yFont={33}
        tickSize={10}
        groups={dGroups}
        groupTicks={[0.5, 1.5]}
        labelBase={53}
        xFont={34}
        rows={pairRows(D_SLOTS, dCtrl, dCtrlSd, dMut, dMutSd, "#a6a6a6")}
        barSize={60}
        cap={15}
        filled={dCtrlDots}
        open={dMutDots}
        r={7}
        brackets={D_BRACKETS}
        pvals={dPvals}
        pFont={29}
      />

      {/* E */}
      <BarPanel
        plot={[137.7, 1170, 399.3, 313.3]}
        xDomain={[0, 1.885]}
        yDomain={[0, 15]}
        yTicks={[0, 5, 10, 15]}
        yFmt={fmt0}
        yFont={26}
        tickSize={7}
        groups={eGroups}
        groupTicks={[0.464, 1.464]}
        labelBase={34}
        xFont={27}
        rows={pairRows(E_SLOTS, eCtrl, eCtrlSd, eMut, eMutSd, "#a0a0a3")}
        barSize={60}
        cap={16}
        filled={eCtrlDots}
        open={eMutDots}
        r={7.5}
        brackets={E_BRACKETS}
        pvals={ePvals}
        pFont={27}
      />

      {/* F */}
      <FlowPanel plot={[713.9, 1168.3, 297.3, 305.7]} yMax={100} data={fData}>
        {[
          <Line key="mutHi" dataKey="mutHi" type="linear" stroke="#9a0000" strokeWidth={2} connectNulls dot={false} activeDot={false} isAnimationActive={false} />,
          <Line key="mutLo" dataKey="mutLo" type="linear" stroke="#ff1010" strokeWidth={2} connectNulls dot={false} activeDot={false} isAnimationActive={false} />,
          <Area
            key="ctrlHi"
            dataKey="ctrlHi"
            type="linear"
            baseValue={8.4}
            stroke="#1c1ca0"
            strokeWidth={2}
            fill="#a8a8dc"
            fillOpacity={1}
            connectNulls
            dot={false}
            activeDot={false}
            isAnimationActive={false}
          />,
          <Area
            key="ctrlLo"
            dataKey="ctrlLo"
            type="linear"
            stroke="#1a8cff"
            strokeWidth={2}
            fill="#b5d9ff"
            fillOpacity={1}
            connectNulls
            dot={false}
            activeDot={false}
            isAnimationActive={false}
          />,
        ]}
      </FlowPanel>

      {/* G */}
      <BarPanel
        plot={[1376.8, 1116.7, 452.2, 365]}
        xDomain={[0, 3]}
        yDomain={[0, 2]}
        yTicks={[0, 0.5, 1, 1.5, 2]}
        yFmt={fmt1}
        yFont={28}
        tickSize={9}
        groups={gGroups}
        groupTicks={[0.503, 1.503, 2.503]}
        labelBase={37}
        xFont={32}
        rows={pairRows(G_SLOTS, gCtrl, gCtrlSd, gMut, gMutSd, "#a9a9a9")}
        barSize={51}
        cap={13}
        filled={gCtrlDots}
        open={gMutDots}
        r={6.5}
        brackets={G_BRACKETS}
        pvals={gPvals}
        pFont={29}
        dotted
      />

      <Overlay />
    </div>
  );
}
